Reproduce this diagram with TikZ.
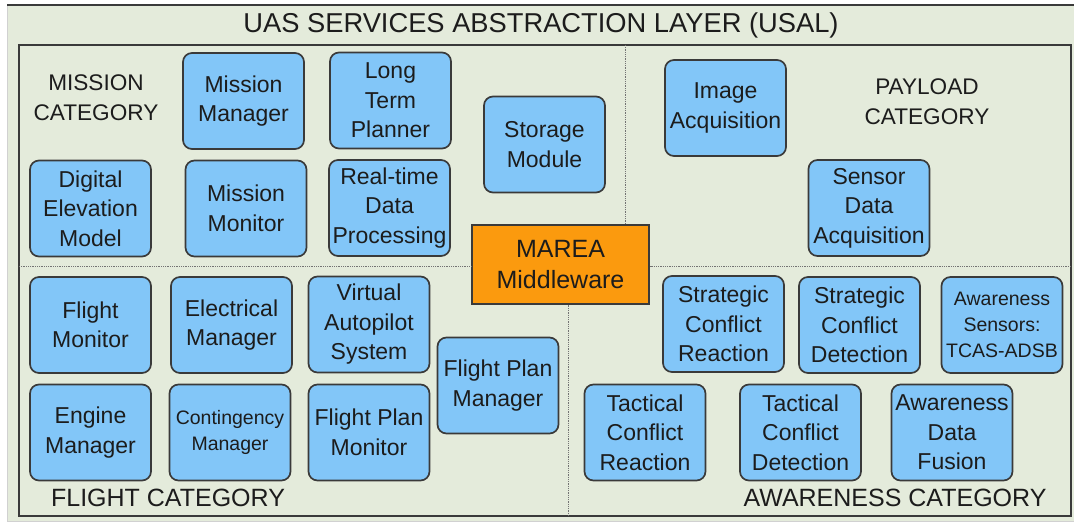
\documentclass[tikz,border=0pt]{standalone}
\usepackage{fontspec}
\setmainfont{Liberation Sans}
\definecolor{layerbg}{HTML}{E4EBDB}
\definecolor{framegray}{HTML}{3A3A3A}
\definecolor{svcblue}{HTML}{82C6F8}
\definecolor{mworange}{HTML}{FB9A0E}
\definecolor{inkgray}{HTML}{1C1C1C}
\tikzset{
  svc/.style={draw=framegray, fill=svcblue, rounded corners=9pt, line width=1.7pt,
    align=center, text=inkgray, inner sep=0pt,
    minimum width=121pt, minimum height=96pt,
    font=\fontsize{23}{29.5}\selectfont},
  svcsmall/.style={svc, font=\fontsize{19.5}{26}\selectfont},
  catlabel/.style={align=center, text=inkgray, inner sep=0pt,
    font=\fontsize{22.6}{30}\selectfont},
  catlabelbig/.style={catlabel, font=\fontsize{25}{30}\selectfont},
  divider/.style={draw=black!55, line width=0.9pt, dash pattern=on 1pt off 0.8pt},
  middleware/.style={draw=framegray, fill=mworange, line width=1.4pt, align=center,
    text=inkgray, inner sep=0pt, minimum width=177pt, minimum height=79pt,
    font=\fontsize{25}{31}\selectfont}
}
\begin{document}
\begin{tikzpicture}[x=1pt, y=-1pt]
\useasboundingbox (0,0) rectangle (1074,524);

% layer background and frames
\fill[layerbg, draw=black!18, line width=0.8pt] (7,5) rectangle (1074,521);
\draw[framegray, line width=2pt] (7,5) -- (1074,5);
\draw[framegray, line width=1.7pt] (19,45) rectangle (1071,516);

\node[font=\fontsize{27.3}{30}\selectfont, text=inkgray, inner sep=0pt] (title) at (541,25)
  {UAS SERVICES ABSTRACTION LAYER (USAL)};

% middleware in the centre
\node[middleware] (marea) at (560.5,264.5) {MAREA\\Middleware};

% category dividers
\coordinate (hl) at (19,266);
\coordinate (hr) at (1071,266);
\coordinate (vt) at (625,45);
\coordinate (vb) at (568,516);
\draw[divider] (hl) -- (hl -| marea.west);
\draw[divider] (hr) -- (hr -| marea.east);
\draw[divider] (vt) -- (vt |- marea.north);
\draw[divider] (vb) -- (vb |- marea.south);

% mission category
\node[catlabel] (missioncat) at (96,98) {MISSION\\CATEGORY};
\node[svc] (mm)   at (243.5,101) {Mission\\Manager};
\node[svc] (ltp)  at (390.5,100.5) {Long\\Term\\Planner};
\node[svc] (stor) at (544.5,144.5) {Storage\\Module};
\node[svc] (dem)  at (90.5,208.5) {Digital\\Elevation\\Model};
\node[svc] (mmon) at (246,208.5) {Mission\\Monitor};
\node[svc] (rtdp) at (389.5,208) {Real-time\\Data\\Processing};

% payload category
\node[catlabel] (payloadcat) at (927,102) {PAYLOAD\\CATEGORY};
\node[svc] (imga) at (725.5,108) {Image\\Acquisition};
\node[svc] (sda)  at (869,208) {Sensor\\Data\\Acquisition};

% flight category
\node[svc] (fmon)  at (90.5,325) {Flight\\Monitor};
\node[svc] (elec)  at (231.5,325) {Electrical\\Manager};
\node[svc] (vas)   at (369,324.5) {Virtual\\Autopilot\\System};
\node[svc] (eng)   at (90.5,432.5) {Engine\\Manager};
\node[svcsmall] (cont) at (230,432.5) {Contingency\\Manager};
\node[svc] (fpmon) at (369,432.5) {Flight Plan\\Monitor};
\node[svc] (fpman) at (498,385.5) {Flight Plan\\Manager};
\node[catlabelbig] (flightcat) at (168,498) {FLIGHT CATEGORY};

% awareness category
\node[svc] (scr) at (723.5,324) {Strategic\\Conflict\\Reaction};
\node[svc] (scd) at (859.5,325) {Strategic\\Conflict\\Detection};
\node[svcsmall] (aws) at (1002,325) {Awareness\\Sensors:\\TCAS-ADSB};
\node[svc] (tcr) at (645,432.5) {Tactical\\Conflict\\Reaction};
\node[svc] (tcd) at (800.5,432.5) {Tactical\\Conflict\\Detection};
\node[svc] (adf) at (952,432.5) {Awareness\\Data\\Fusion};
\node[catlabelbig] (awarecat) at (895,498) {AWARENESS CATEGORY};
\end{tikzpicture}
\end{document}
